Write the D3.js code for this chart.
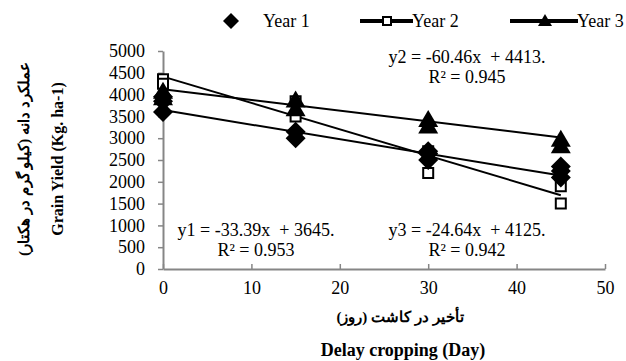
<!DOCTYPE html>
<html>
<head>
<meta charset="utf-8">
<script src="https://cdn.jsdelivr.net/npm/d3@7"></script>
<style>
  body { margin: 0; background: #fff; }
</style>
</head>
<body>
<svg id="chart" width="626" height="361"></svg>
<script>
const year1Days = [0, 0, 0, 15, 15, 30, 30, 30, 45, 45, 45];
const year1Yield = [3600, 3850, 3950, 3000, 3150, 2500, 2650, 2700, 2100, 2250, 2350];
const year2Days = [0, 0, 15, 15, 30, 30, 45, 45];
const year2Yield = [4350, 4250, 3500, 3850, 2200, 2700, 1500, 1900];
const year3Days = [0, 0, 15, 15, 30, 30, 45, 45];
const year3Yield = [3950, 4100, 3700, 3900, 3300, 3450, 2850, 3000];

// fitted trend lines: [slope, intercept]
const fit1 = [-33.39, 3645];
const fit2 = [-60.46, 4413];
const fit3 = [-24.64, 4125];

const xTicks = [0, 10, 20, 30, 40, 50];
const yTicks = [0, 500, 1000, 1500, 2000, 2500, 3000, 3500, 4000, 4500, 5000];

const serif = '"Liberation Serif", "Times New Roman", serif';
const svg = d3.select('#chart').attr('font-family', serif);
const x = d3.scaleLinear().domain([0, 50]).range([163, 605]);
const y = d3.scaleLinear().domain([0, 5000]).range([269, 51]);
const axisColor = '#868686';

// axes
const xAxis = svg.append('g')
  .attr('transform', `translate(0,${y(0)})`)
  .call(d3.axisBottom(x).tickValues(xTicks).tickFormat(d3.format('d'))
    .tickSize(5).tickSizeOuter(0).tickPadding(7));
const yAxis = svg.append('g')
  .attr('transform', `translate(${x(0)},0)`)
  .call(d3.axisLeft(y).tickValues(yTicks).tickFormat(d3.format('d'))
    .tickSize(5).tickSizeOuter(0).tickPadding(13));

[xAxis, yAxis].forEach(a => {
  a.attr('font-family', serif).attr('font-size', 18);
  a.select('.domain').attr('stroke', axisColor).attr('stroke-width', 2);
  a.selectAll('.tick line').attr('stroke', axisColor).attr('stroke-width', 1.5);
  a.selectAll('.tick text').attr('fill', '#000');
});
// x ticks point up into the plot
xAxis.selectAll('.tick line').attr('y1', -5).attr('y2', 0);

// trend lines
const fits = [fit1, fit2, fit3];
const trend = d3.line().x(d => x(d[0])).y(d => y(d[1]));
svg.append('g').selectAll('path')
  .data(fits)
  .join('path')
  .attr('d', f => trend([[0, f[1]], [45, f[0] * 45 + f[1]]]))
  .attr('fill', 'none')
  .attr('stroke', '#000')
  .attr('stroke-width', 2);

// markers
const diamondPath = r => `M0,${-r}L${r},0L0,${r}L${-r},0Z`;
const trianglePath = (w, h) => `M0,${-h / 2}L${w / 2},${h / 2}L${-w / 2},${h / 2}Z`;

svg.append('g').selectAll('path')
  .data(d3.zip(year2Days, year2Yield))
  .join('path')
  .attr('d', d3.symbol().type(d3.symbolSquare).size(100))
  .attr('transform', d => `translate(${x(d[0])},${y(d[1])})`)
  .attr('fill', '#fff').attr('stroke', '#000').attr('stroke-width', 2);

svg.append('g').selectAll('path')
  .data(d3.zip(year3Days, year3Yield))
  .join('path')
  .attr('d', trianglePath(20, 17))
  .attr('transform', d => `translate(${x(d[0])},${y(d[1])})`)
  .attr('fill', '#000');

svg.append('g').selectAll('path')
  .data(d3.zip(year1Days, year1Yield))
  .join('path')
  .attr('d', diamondPath(10))
  .attr('transform', d => `translate(${x(d[0])},${y(d[1])})`)
  .attr('fill', '#000');

// equations
const eqs = [
  { cx: 256, cy: 236, t1: 'y1 = -33.39x  + 3645.', t2: 'R² = 0.953' },
  { cx: 467, cy: 63, t1: 'y2 = -60.46x  + 4413.', t2: 'R² = 0.945' },
  { cx: 467, cy: 236, t1: 'y3 = -24.64x  + 4125.', t2: 'R² = 0.942' }
];
const eq = svg.append('g').attr('font-size', 18).selectAll('g').data(eqs).join('g');
eq.append('text').attr('x', d => d.cx).attr('y', d => d.cy)
  .attr('text-anchor', 'middle').attr('xml:space', 'preserve').style('white-space', 'pre')
  .text(d => d.t1);
eq.append('text').attr('x', d => d.cx).attr('y', d => d.cy + 20)
  .attr('text-anchor', 'middle')
  .text(d => d.t2);

// legend
const lg = svg.append('g').attr('font-size', 18);
lg.append('path').attr('d', diamondPath(8)).attr('transform', 'translate(231,21)').attr('fill', '#000');
lg.append('text').attr('x', 263).attr('y', 27).text('Year 1');
lg.append('line').attr('x1', 360).attr('x2', 413).attr('y1', 21).attr('y2', 21)
  .attr('stroke', '#000').attr('stroke-width', 4);
lg.append('path').attr('d', d3.symbol().type(d3.symbolSquare).size(64))
  .attr('transform', 'translate(387,21)').attr('fill', '#fff').attr('stroke', '#000').attr('stroke-width', 2);
lg.append('text').attr('x', 412).attr('y', 27).text('Year 2');
lg.append('line').attr('x1', 510).attr('x2', 578).attr('y1', 21).attr('y2', 21)
  .attr('stroke', '#000').attr('stroke-width', 4);
lg.append('path').attr('d', trianglePath(14, 12))
  .attr('transform', 'translate(545,20)').attr('fill', '#000');
lg.append('text').attr('x', 577).attr('y', 27).text('Year 3');

// axis titles
svg.append('text')
  .attr('transform', 'translate(63,159) rotate(-90)')
  .attr('text-anchor', 'middle').attr('font-size', 16).attr('font-weight', 'bold')
  .text('Grain Yield (Kg. ha-1)');
svg.append('text')
  .attr('transform', 'translate(29,159) rotate(-90)')
  .attr('text-anchor', 'middle').attr('direction', 'rtl')
  .attr('font-size', 15).attr('font-weight', 'bold')
  .text('عملکرد دانه (کیلو گرم در هکتار)');
svg.append('text')
  .attr('x', 400).attr('y', 322)
  .attr('text-anchor', 'middle').attr('direction', 'rtl')
  .attr('font-size', 15).attr('font-weight', 'bold')
  .text('تأخیر در کاشت (روز)');
svg.append('text')
  .attr('x', 403).attr('y', 356)
  .attr('text-anchor', 'middle').attr('font-size', 18).attr('font-weight', 'bold')
  .text('Delay cropping (Day)');
</script>
</body>
</html>
